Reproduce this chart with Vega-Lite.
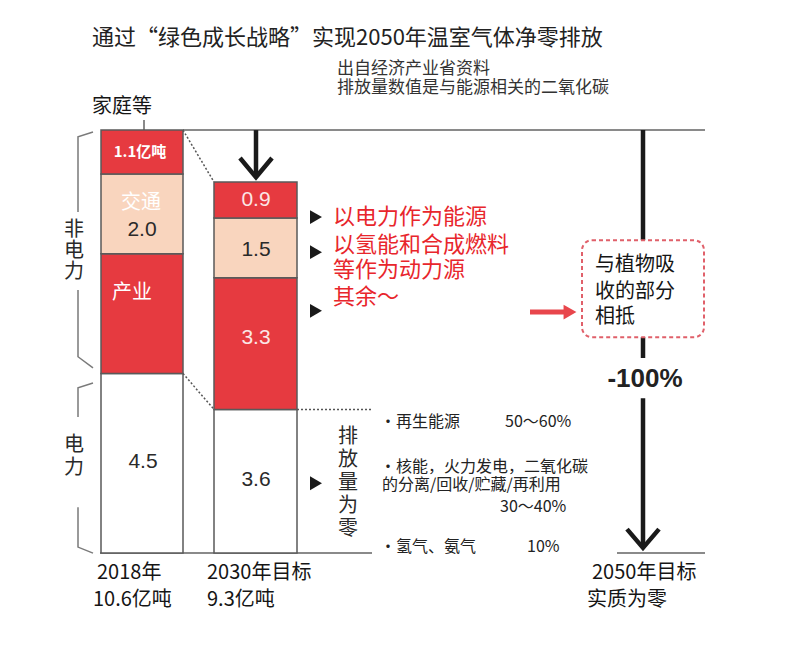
{
  "$schema": "https://vega.github.io/schema/vega-lite/v6.json",
  "width": 788,
  "height": 670,
  "autosize": {"type": "fit", "contains": "padding"},
  "padding": 0,
  "background": "white",
  "config": {"view": {"stroke": null}},
  "datasets": {
    "bars": [
      {"year": "2018", "seg": "电力", "value": 4.5, "o": 1, "x": 101, "xe": 183},
      {"year": "2018", "seg": "产业", "value": 3.0, "o": 2, "x": 101, "xe": 183},
      {"year": "2018", "seg": "交通", "value": 2.0, "o": 3, "x": 101, "xe": 183},
      {"year": "2018", "seg": "家庭等", "value": 1.1, "o": 4, "x": 101, "xe": 183},
      {"year": "2030", "seg": "电力", "value": 3.6, "o": 1, "x": 214, "xe": 297},
      {"year": "2030", "seg": "产业", "value": 3.3, "o": 2, "x": 214, "xe": 297},
      {"year": "2030", "seg": "交通", "value": 1.5, "o": 3, "x": 214, "xe": 297},
      {"year": "2030", "seg": "家庭等", "value": 0.9, "o": 4, "x": 214, "xe": 297}
    ],
    "grayLines": [
      {"id": "top", "o": 1, "x": 183, "y": 10.6}, {"id": "top", "o": 2, "x": 705, "y": 10.6},
      {"id": "b1", "o": 1, "x": 100, "y": 0}, {"id": "b1", "o": 2, "x": 372, "y": 0},
      {"id": "b2", "o": 1, "x": 617, "y": 0}, {"id": "b2", "o": 2, "x": 705, "y": 0},
      {"id": "tick", "o": 1, "x": 144, "y": 10.85}, {"id": "tick", "o": 2, "x": 144, "y": 10.6}
    ],
    "brackets": [
      {"id": "k1", "o": 1, "x": 93, "y": 10.55}, {"id": "k1", "o": 2, "x": 78, "y": 10.43}, {"id": "k1", "o": 3, "x": 78, "y": 8.55},
      {"id": "k2", "o": 1, "x": 78, "y": 6.59}, {"id": "k2", "o": 2, "x": 78, "y": 4.92}, {"id": "k2", "o": 3, "x": 93, "y": 4.64},
      {"id": "k3", "o": 1, "x": 93, "y": 4.26}, {"id": "k3", "o": 2, "x": 78, "y": 4.14}, {"id": "k3", "o": 3, "x": 78, "y": 3.41},
      {"id": "k4", "o": 1, "x": 78, "y": 1.15}, {"id": "k4", "o": 2, "x": 78, "y": 0.15}, {"id": "k4", "o": 3, "x": 93, "y": 0.0}
    ],
    "dotted": [
      {"id": "d1", "o": 1, "x": 183, "y": 10.6}, {"id": "d1", "o": 2, "x": 214, "y": 9.3},
      {"id": "d2", "o": 1, "x": 183, "y": 4.5}, {"id": "d2", "o": 2, "x": 214, "y": 3.6},
      {"id": "d3", "o": 1, "x": 297, "y": 3.6}, {"id": "d3", "o": 2, "x": 372, "y": 3.6}
    ],
    "arrows": [
      {"id": "s1", "o": 1, "x": 256, "y": 10.6}, {"id": "s1", "o": 2, "x": 256, "y": 9.45},
      {"id": "h1", "o": 1, "x": 240, "y": 9.9}, {"id": "h1", "o": 2, "x": 256, "y": 9.42}, {"id": "h1", "o": 3, "x": 272, "y": 9.9},
      {"id": "s2", "o": 1, "x": 643, "y": 10.6}, {"id": "s2", "o": 2, "x": 643, "y": 4.89},
      {"id": "s3", "o": 1, "x": 643, "y": 3.88}, {"id": "s3", "o": 2, "x": 643, "y": 0.16},
      {"id": "h2", "o": 1, "x": 627, "y": 0.6}, {"id": "h2", "o": 2, "x": 643, "y": 0.13}, {"id": "h2", "o": 3, "x": 659, "y": 0.6}
    ],
    "redArrow": [
      {"id": "r", "o": 1, "x": 530, "y": 6.04}, {"id": "r", "o": 2, "x": 566, "y": 6.04}
    ],
    "redHead": [{"x": 570, "y": 6.04}],
    "triangles": [
      {"x": 316, "y": 8.42}, {"x": 316, "y": 7.54}, {"x": 316, "y": 6.07}, {"x": 316, "y": 1.75}
    ],
    "box": [{"x": 582, "xe": 704, "y": 5.41, "ye": 7.84}],
    "title": [{"x": 92, "y": 12.91, "t": "通过“绿色成长战略”实现2050年温室气体净零排放"}],
    "source": [
      {"x": 337, "y": 12.13, "t": "出自经济产业省资料"},
      {"x": 337, "y": 11.65, "t": "排放量数值是与能源相关的二氧化碳"}
    ],
    "labels": [
      {"x": 92, "y": 11.18, "t": "家庭等"},
      {"x": 97, "y": -0.5, "t": "2018年"},
      {"x": 93, "y": -1.18, "t": "10.6亿吨"},
      {"x": 207, "y": -0.5, "t": "2030年目标"},
      {"x": 207, "y": -1.18, "t": "9.3亿吨"},
      {"x": 592, "y": -0.5, "t": "2050年目标"},
      {"x": 587, "y": -1.18, "t": "实质为零"},
      {"x": 595, "y": 7.22, "t": "与植物吸"},
      {"x": 595, "y": 6.54, "t": "收的部分"},
      {"x": 595, "y": 5.91, "t": "相抵"}
    ],
    "vtext21": [
      {"x": 74, "y": 8.1, "t": "非\n电\n力"}
    ],
    "vtext23": [
      {"x": 74, "y": 2.71, "t": "电\n力"},
      {"x": 348, "y": 2.91, "t": "排\n放\n量\n为\n零"}
    ],
    "redText": [
      {"x": 333, "y": 8.42, "t": "以电力作为能源"},
      {"x": 333, "y": 7.72, "t": "以氢能和合成燃料"},
      {"x": 333, "y": 7.09, "t": "等作为动力源"},
      {"x": 333, "y": 6.42, "t": "其余～"}
    ],
    "bullets": [
      {"x": 380, "y": 3.28, "t": "·再生能源"},
      {"x": 505, "y": 3.28, "t": "50～60%"},
      {"x": 380, "y": 2.16, "t": "·核能，火力发电，二氧化碳"},
      {"x": 382, "y": 1.7, "t": "的分离/回收/贮藏/再利用"},
      {"x": 500, "y": 1.15, "t": "30～40%"},
      {"x": 380, "y": 0.15, "t": "·氢气、氨气"},
      {"x": 527, "y": 0.15, "t": "10%"}
    ],
    "whiteCJK": [
      {"x": 141, "y": 8.77, "t": "交通"},
      {"x": 132, "y": 6.52, "t": "产业"}
    ],
    "boldLabel": [{"x": 140, "y": 10.05, "t": "1.1亿吨"}],
    "darkNums": [
      {"x": 142, "y": 8.1, "t": "2.0"},
      {"x": 143, "y": 2.28, "t": "4.5"},
      {"x": 256, "y": 7.59, "t": "1.5"},
      {"x": 256, "y": 1.83, "t": "3.6"}
    ],
    "whiteNums": [
      {"x": 256, "y": 8.85, "t": "0.9"},
      {"x": 256, "y": 5.39, "t": "3.3"}
    ],
    "pct": [{"x": 645, "y": 4.36, "t": "-100%"}]
  },
  "encoding": {
    "x": {"field": "x", "type": "quantitative", "scale": {"domain": [0, 788], "nice": false, "zero": false}, "axis": null},
    "y": {"field": "y", "type": "quantitative", "scale": {"domain": [-2.93, 13.86], "nice": false, "zero": false}, "axis": null}
  },
  "layer": [
    {
      "data": {"name": "grayLines"},
      "mark": {"type": "line", "color": "#8a8a8a", "strokeWidth": 2},
      "encoding": {"detail": {"field": "id"}, "order": {"field": "o"}}
    },
    {
      "data": {"name": "brackets"},
      "mark": {"type": "line", "color": "#7a7a7a", "strokeWidth": 1.5},
      "encoding": {"detail": {"field": "id"}, "order": {"field": "o"}}
    },
    {
      "data": {"name": "dotted"},
      "mark": {"type": "line", "color": "#555555", "strokeWidth": 1.5, "strokeDash": [2, 2]},
      "encoding": {"detail": {"field": "id"}, "order": {"field": "o"}}
    },
    {
      "data": {"name": "arrows"},
      "mark": {"type": "line", "color": "#1a1a1a", "strokeWidth": 4.5, "strokeJoin": "miter"},
      "encoding": {"detail": {"field": "id"}, "order": {"field": "o"}}
    },
    {
      "data": {"name": "redArrow"},
      "mark": {"type": "line", "color": "#e8464c", "strokeWidth": 5},
      "encoding": {"detail": {"field": "id"}, "order": {"field": "o"}}
    },
    {
      "data": {"name": "redHead"},
      "mark": {"type": "point", "shape": "triangle-right", "filled": true, "color": "#e8464c", "size": 220, "opacity": 1}
    },
    {
      "data": {"name": "triangles"},
      "mark": {"type": "point", "shape": "triangle-right", "filled": true, "color": "#1a1a1a", "size": 190, "opacity": 1}
    },
    {
      "data": {"name": "bars"},
      "transform": [{"stack": "value", "groupby": ["year"], "sort": [{"field": "o", "order": "ascending"}], "as": ["y", "ye"]}],
      "mark": {"type": "rect", "stroke": "#5a5a5a", "strokeWidth": 1.5},
      "encoding": {
        "x2": {"field": "xe"},
        "y2": {"field": "ye"},
        "color": {"field": "seg", "type": "nominal", "legend": null,
          "scale": {"domain": ["电力", "产业", "交通", "家庭等"], "range": ["#ffffff", "#e63a40", "#f9d5be", "#e63a40"]}}
      }
    },
    {
      "data": {"name": "box"},
      "mark": {"type": "rect", "fill": "#ffffff", "stroke": "#e0606a", "strokeWidth": 2, "strokeDash": [4, 3], "cornerRadius": 10},
      "encoding": {"x2": {"field": "xe"}, "y2": {"field": "ye"}}
    },
    {
      "data": {"name": "title"},
      "mark": {"type": "text", "align": "left", "baseline": "middle", "font": "Noto Sans CJK SC", "fontSize": 22, "color": "#222222"},
      "encoding": {"text": {"field": "t"}}
    },
    {
      "data": {"name": "source"},
      "mark": {"type": "text", "align": "left", "baseline": "middle", "font": "Noto Sans CJK SC", "fontSize": 17, "color": "#333333"},
      "encoding": {"text": {"field": "t"}}
    },
    {
      "data": {"name": "labels"},
      "mark": {"type": "text", "align": "left", "baseline": "middle", "font": "Noto Sans CJK SC", "fontSize": 20, "color": "#151515"},
      "encoding": {"text": {"field": "t"}}
    },
    {
      "data": {"name": "vtext21"},
      "mark": {"type": "text", "align": "center", "baseline": "middle", "font": "Noto Sans CJK SC", "fontSize": 20, "lineHeight": 21, "lineBreak": "\n", "color": "#2a2a2a"},
      "encoding": {"text": {"field": "t"}}
    },
    {
      "data": {"name": "vtext23"},
      "mark": {"type": "text", "align": "center", "baseline": "middle", "font": "Noto Sans CJK SC", "fontSize": 20, "lineHeight": 23, "lineBreak": "\n", "color": "#2a2a2a"},
      "encoding": {"text": {"field": "t"}}
    },
    {
      "data": {"name": "redText"},
      "mark": {"type": "text", "align": "left", "baseline": "middle", "font": "Noto Sans CJK SC", "fontSize": 22, "color": "#e8262c"},
      "encoding": {"text": {"field": "t"}}
    },
    {
      "data": {"name": "bullets"},
      "mark": {"type": "text", "align": "left", "baseline": "middle", "font": "Noto Sans CJK SC", "fontSize": 16, "color": "#222222"},
      "encoding": {"text": {"field": "t"}}
    },
    {
      "data": {"name": "whiteCJK"},
      "mark": {"type": "text", "align": "center", "baseline": "middle", "font": "Noto Sans CJK SC", "fontSize": 20, "color": "#ffffff"},
      "encoding": {"text": {"field": "t"}}
    },
    {
      "data": {"name": "boldLabel"},
      "mark": {"type": "text", "align": "center", "baseline": "middle", "font": "Noto Sans CJK SC", "fontWeight": "bold", "fontSize": 15, "color": "#ffffff"},
      "encoding": {"text": {"field": "t"}}
    },
    {
      "data": {"name": "darkNums"},
      "mark": {"type": "text", "align": "center", "baseline": "middle", "font": "Liberation Sans", "fontSize": 21, "color": "#2a2a2a"},
      "encoding": {"text": {"field": "t"}}
    },
    {
      "data": {"name": "whiteNums"},
      "mark": {"type": "text", "align": "center", "baseline": "middle", "font": "Liberation Sans", "fontSize": 21, "color": "#fbe6e6"},
      "encoding": {"text": {"field": "t"}}
    },
    {
      "data": {"name": "pct"},
      "mark": {"type": "text", "align": "center", "baseline": "middle", "font": "Liberation Sans", "fontWeight": "bold", "fontSize": 26, "color": "#222222"},
      "encoding": {"text": {"field": "t"}}
    }
  ]
}
